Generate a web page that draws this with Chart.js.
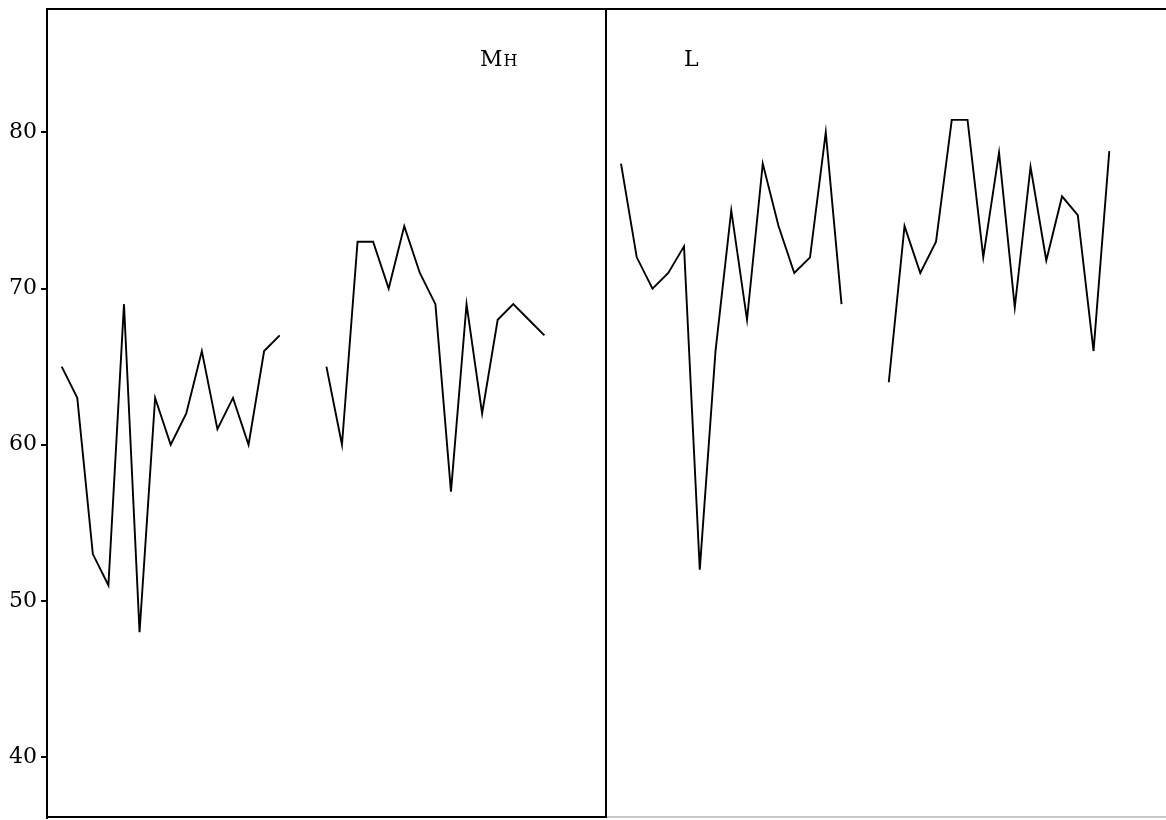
<!DOCTYPE html>
<html>
<head>
<meta charset="utf-8">
<title>MH / L</title>
<script src="https://cdn.jsdelivr.net/npm/chart.js@4.4.0/dist/chart.umd.min.js"></script>
<style>
    body { margin: 0; background: #fff; }
    #wrap { position: relative; width: 1166px; height: 820px; overflow: hidden; }
    canvas { position: absolute; top: 0; }
    #leftChart { left: 0; }
    #rightChart { left: 607px; }
</style>
</head>
<body>
<div id="wrap">
    <canvas id="leftChart" width="608" height="820"></canvas>
    <canvas id="rightChart" width="559" height="820"></canvas>
</div>
<script>
// ---------------------------------------------------------
// 1. DATA
// ---------------------------------------------------------
const yTicks = [40, 50, 60, 70, 80];

// null = gap between the two runs in each panel
const mhValues = [65, 63, 53, 51, 69, 48, 63, 60, 62, 66, 61, 63, 60, 66, 67,
                  null, null,
                  65, 60, 73, 73, 70, 74, 71, 69, 57, 69, 62, 68, 69, 68, 67];
const lValues = [78, 72, 70, 71, 72.7, 52, 66, 75, 68, 78, 74, 71, 72, 80, 69,
                 null, null,
                 64, 74, 71, 73, 80.8, 80.8, 72, 78.7, 68.8, 77.8, 71.8, 75.9, 74.7, 66, 78.8];

const panelLabels = ['MH', 'L'];

// ---------------------------------------------------------
// 2. SHARED STUFF
// ---------------------------------------------------------
const SERIF = "'DejaVu Serif', 'Liberation Serif', serif";
const Y_MIN = 36.1;
const Y_MAX = 87.9;

function toPoints(values) {
    return values.map((v, i) => ({ x: i, y: v }));
}

// box lines round the plot area
function framePlugin(sides) {
    return {
        id: 'frame',
        afterDraw(chart) {
            const { ctx, chartArea: a } = chart;
            ctx.save();
            ctx.strokeStyle = '#000';
            ctx.lineWidth = 2;
            ctx.beginPath();
            ctx.moveTo(a.left, a.top);
            ctx.lineTo(a.right, a.top);
            if (sides.right) {
                ctx.moveTo(a.right - 1, a.top);
                ctx.lineTo(a.right - 1, a.bottom);
            }
            ctx.stroke();
            // bottom edge
            ctx.strokeStyle = sides.bottomColor;
            ctx.beginPath();
            ctx.moveTo(a.left, a.bottom - 1);
            ctx.lineTo(a.right, a.bottom - 1);
            ctx.stroke();
            ctx.restore();
        }
    };
}

// panel name, small caps after the first letter
function namePlugin(text, xPos, baseline) {
    return {
        id: 'panelName',
        afterDraw(chart) {
            const ctx = chart.ctx;
            ctx.save();
            ctx.fillStyle = '#000';
            ctx.textBaseline = 'alphabetic';
            ctx.font = '22px ' + SERIF;
            ctx.fillText(text[0], xPos, baseline);
            let w = ctx.measureText(text[0]).width;
            if (text.length > 1) {
                ctx.font = '16px ' + SERIF;
                ctx.fillText(text.slice(1), xPos + w + 1, baseline);
            }
            ctx.restore();
        }
    };
}

function makeOptions(xMin, xMax, showY) {
    return {
        responsive: false,
        animation: false,
        layout: { padding: { top: 9, right: showY ? 1 : 0, bottom: 2, left: 0 } },
        plugins: { legend: { display: false }, tooltip: { enabled: false } },
        elements: { point: { radius: 0 }, line: { tension: 0 } },
        scales: {
            x: { type: 'linear', min: xMin, max: xMax, display: false },
            y: {
                display: showY,
                min: Y_MIN,
                max: Y_MAX,
                afterBuildTicks: (scale) => { scale.ticks = yTicks.map(v => ({ value: v })); },
                afterFit: (scale) => {
                    // fixed axis width, and no extra room for the label halves
                    scale.width = showY ? 47 : 0;
                    scale.paddingTop = 0;
                    scale.paddingBottom = 0;
                },
                border: { display: true, color: '#000', width: 2 },
                grid: { drawOnChartArea: false, drawTicks: true, tickLength: 6, color: '#000', lineWidth: 2 },
                ticks: { color: '#000', padding: 4, font: { family: SERIF, size: 22 } }
            }
        }
    };
}

function lineDataset(values) {
    return {
        data: toPoints(values),
        borderColor: '#000',
        borderWidth: 1.9,
        spanGaps: false,
        fill: false
    };
}

// ---------------------------------------------------------
// 3. CHARTS
// ---------------------------------------------------------
new Chart(document.getElementById('leftChart'), {
    type: 'line',
    data: { datasets: [lineDataset(mhValues)] },
    options: makeOptions(-0.944, 35.02, true),
    plugins: [framePlugin({ right: true, bottomColor: '#000' }), namePlugin(panelLabels[0], 480, 66)]
});

new Chart(document.getElementById('rightChart'), {
    type: 'line',
    data: { datasets: [lineDataset(lValues)] },
    options: makeOptions(-0.889, 34.6, false),
    plugins: [framePlugin({ right: false, bottomColor: '#c8c8c8' }), namePlugin(panelLabels[1], 684 - 607, 66)]
});
</script>
</body>
</html>
